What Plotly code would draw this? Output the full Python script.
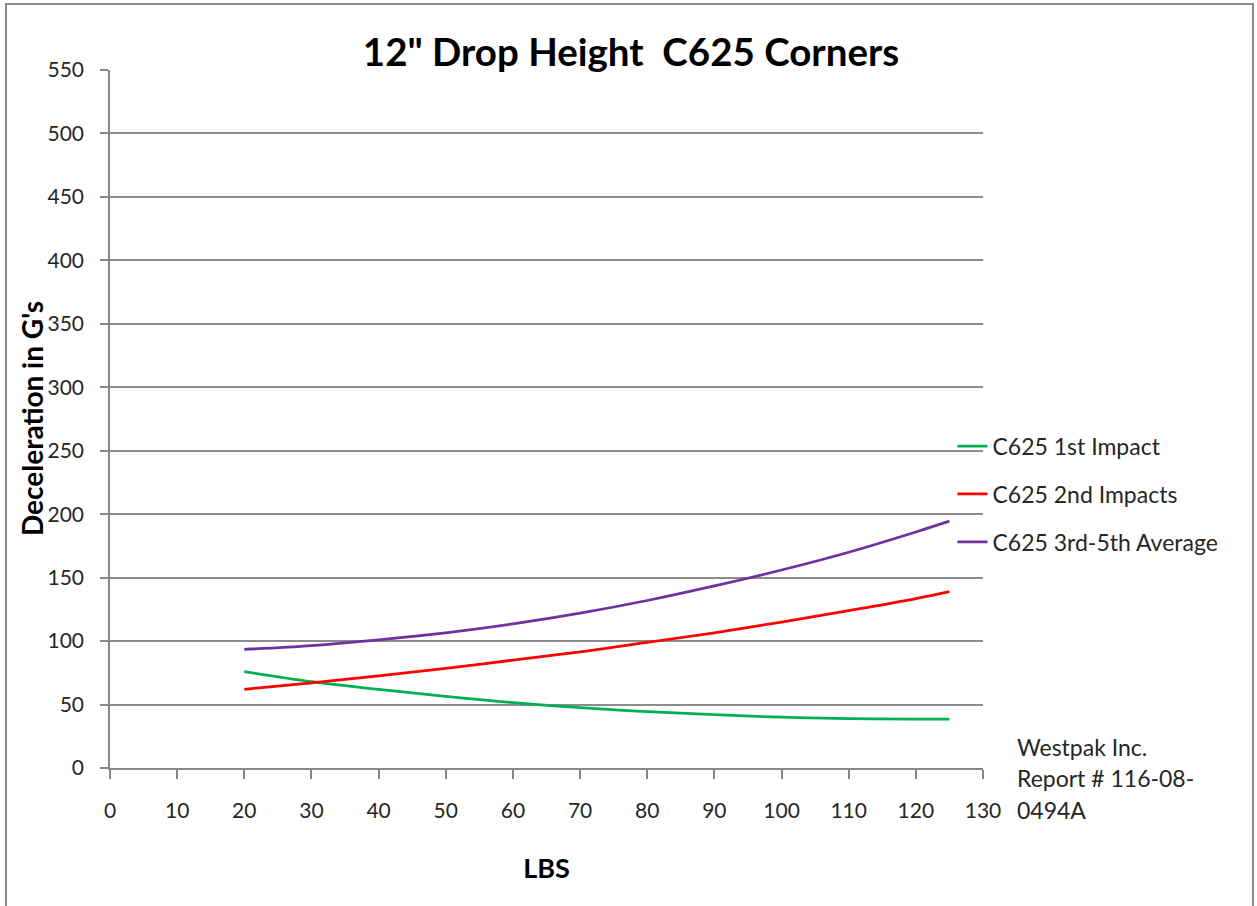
import plotly.graph_objects as go

lbs = [20, 30, 40, 50, 60, 70, 80, 90, 100, 110, 120, 125]
first_impact = [76, 68, 62, 56.5, 51.5, 47.5, 44.5, 42, 40, 39, 38.5, 38.5]
second_impacts = [62, 67, 72.5, 78.5, 85, 91.5, 99, 106.5, 115, 124, 133.5, 139]
third_fifth_avg = [93.5, 96.5, 101, 106.5, 113.5, 122, 132, 143.5, 156, 170, 186, 194.5]

series_names = ["C625 1st Impact", "C625 2nd Impacts", "C625 3rd-5th Average"]
series_colors = ["#00B050", "#FF0000", "#7030A0"]
series_values = [first_impact, second_impacts, third_fifth_avg]

note_lines = ["Westpak Inc.", "Report # 116-08-", "0494A"]

FONT = "Lato"

fig = go.Figure()
for i, (name, color, vals) in enumerate(zip(series_names, series_colors, series_values)):
    fig.add_trace(go.Scatter(
        x=lbs, y=vals, mode="lines", name=name,
        line=dict(color=color, width=2.75, shape="spline"),
        legendgroup=f"g{i}",
    ))

fig.update_layout(
    width=1257, height=906,
    margin=dict(l=110, r=274, t=70, b=138),
    paper_bgcolor="white", plot_bgcolor="white",
    font=dict(family=FONT, size=21, color="#262626"),
    title=dict(text="<b>12\" Drop Height  C625 Corners</b>", x=0.502, xanchor="center",
               y=0.942, yanchor="middle", font=dict(size=38.5, color="#000000", family=FONT)),
    showlegend=True,
    legend=dict(x=0.965, y=0.492, xanchor="left", yanchor="top",
                traceorder="grouped", tracegroupgap=15,
                font=dict(size=23, color="#262626", family=FONT),
                bgcolor="rgba(0,0,0,0)", itemwidth=30),
)

fig.update_xaxes(
    range=[0, 130], tickmode="linear", tick0=0, dtick=10,
    showgrid=False, zeroline=False,
    showline=True, linecolor="#888888", linewidth=1.5,
    ticks="outside", ticklen=9, tickcolor="#888888", tickwidth=1.5,
    ticklabelstandoff=14,
    title=dict(text="<b>LBS</b>", font=dict(size=27, color="#000000"), standoff=38),
)
fig.update_yaxes(
    range=[0, 550], tickmode="linear", tick0=0, dtick=50,
    showgrid=True, gridcolor="#8c8c8c", gridwidth=1.5, zeroline=False,
    showline=True, linecolor="#888888", linewidth=1.5,
    ticks="outside", ticklen=8, tickcolor="#888888", tickwidth=1.5,
    ticklabelstandoff=12,
)

fig.add_annotation(
    xref="paper", yref="paper", x=-0.0893, y=0.5, xanchor="center", yanchor="middle",
    text="<b>Deceleration in G's</b>", textangle=-90, showarrow=False,
    font=dict(size=28, color="#000000", family=FONT),
)

for k, line in enumerate(note_lines):
    fig.add_annotation(
        xref="paper", yref="paper", x=1.0366, y=0.030 - k * 0.0449,
        xanchor="left", yanchor="middle",
        text=line, showarrow=False, align="left",
        font=dict(size=23, color="#262626", family=FONT),
    )

fig.add_shape(type="rect", xref="paper", yref="paper",
              x0=-0.1191, x1=1.3093, y0=-0.2, y1=1.0946,
              line=dict(color="#8a8a8a", width=2), fillcolor="rgba(0,0,0,0)", layer="above")

fig.write_html("out.html", config={"displayModeBar": False},
               post_script="document.body.style.margin='0';")
